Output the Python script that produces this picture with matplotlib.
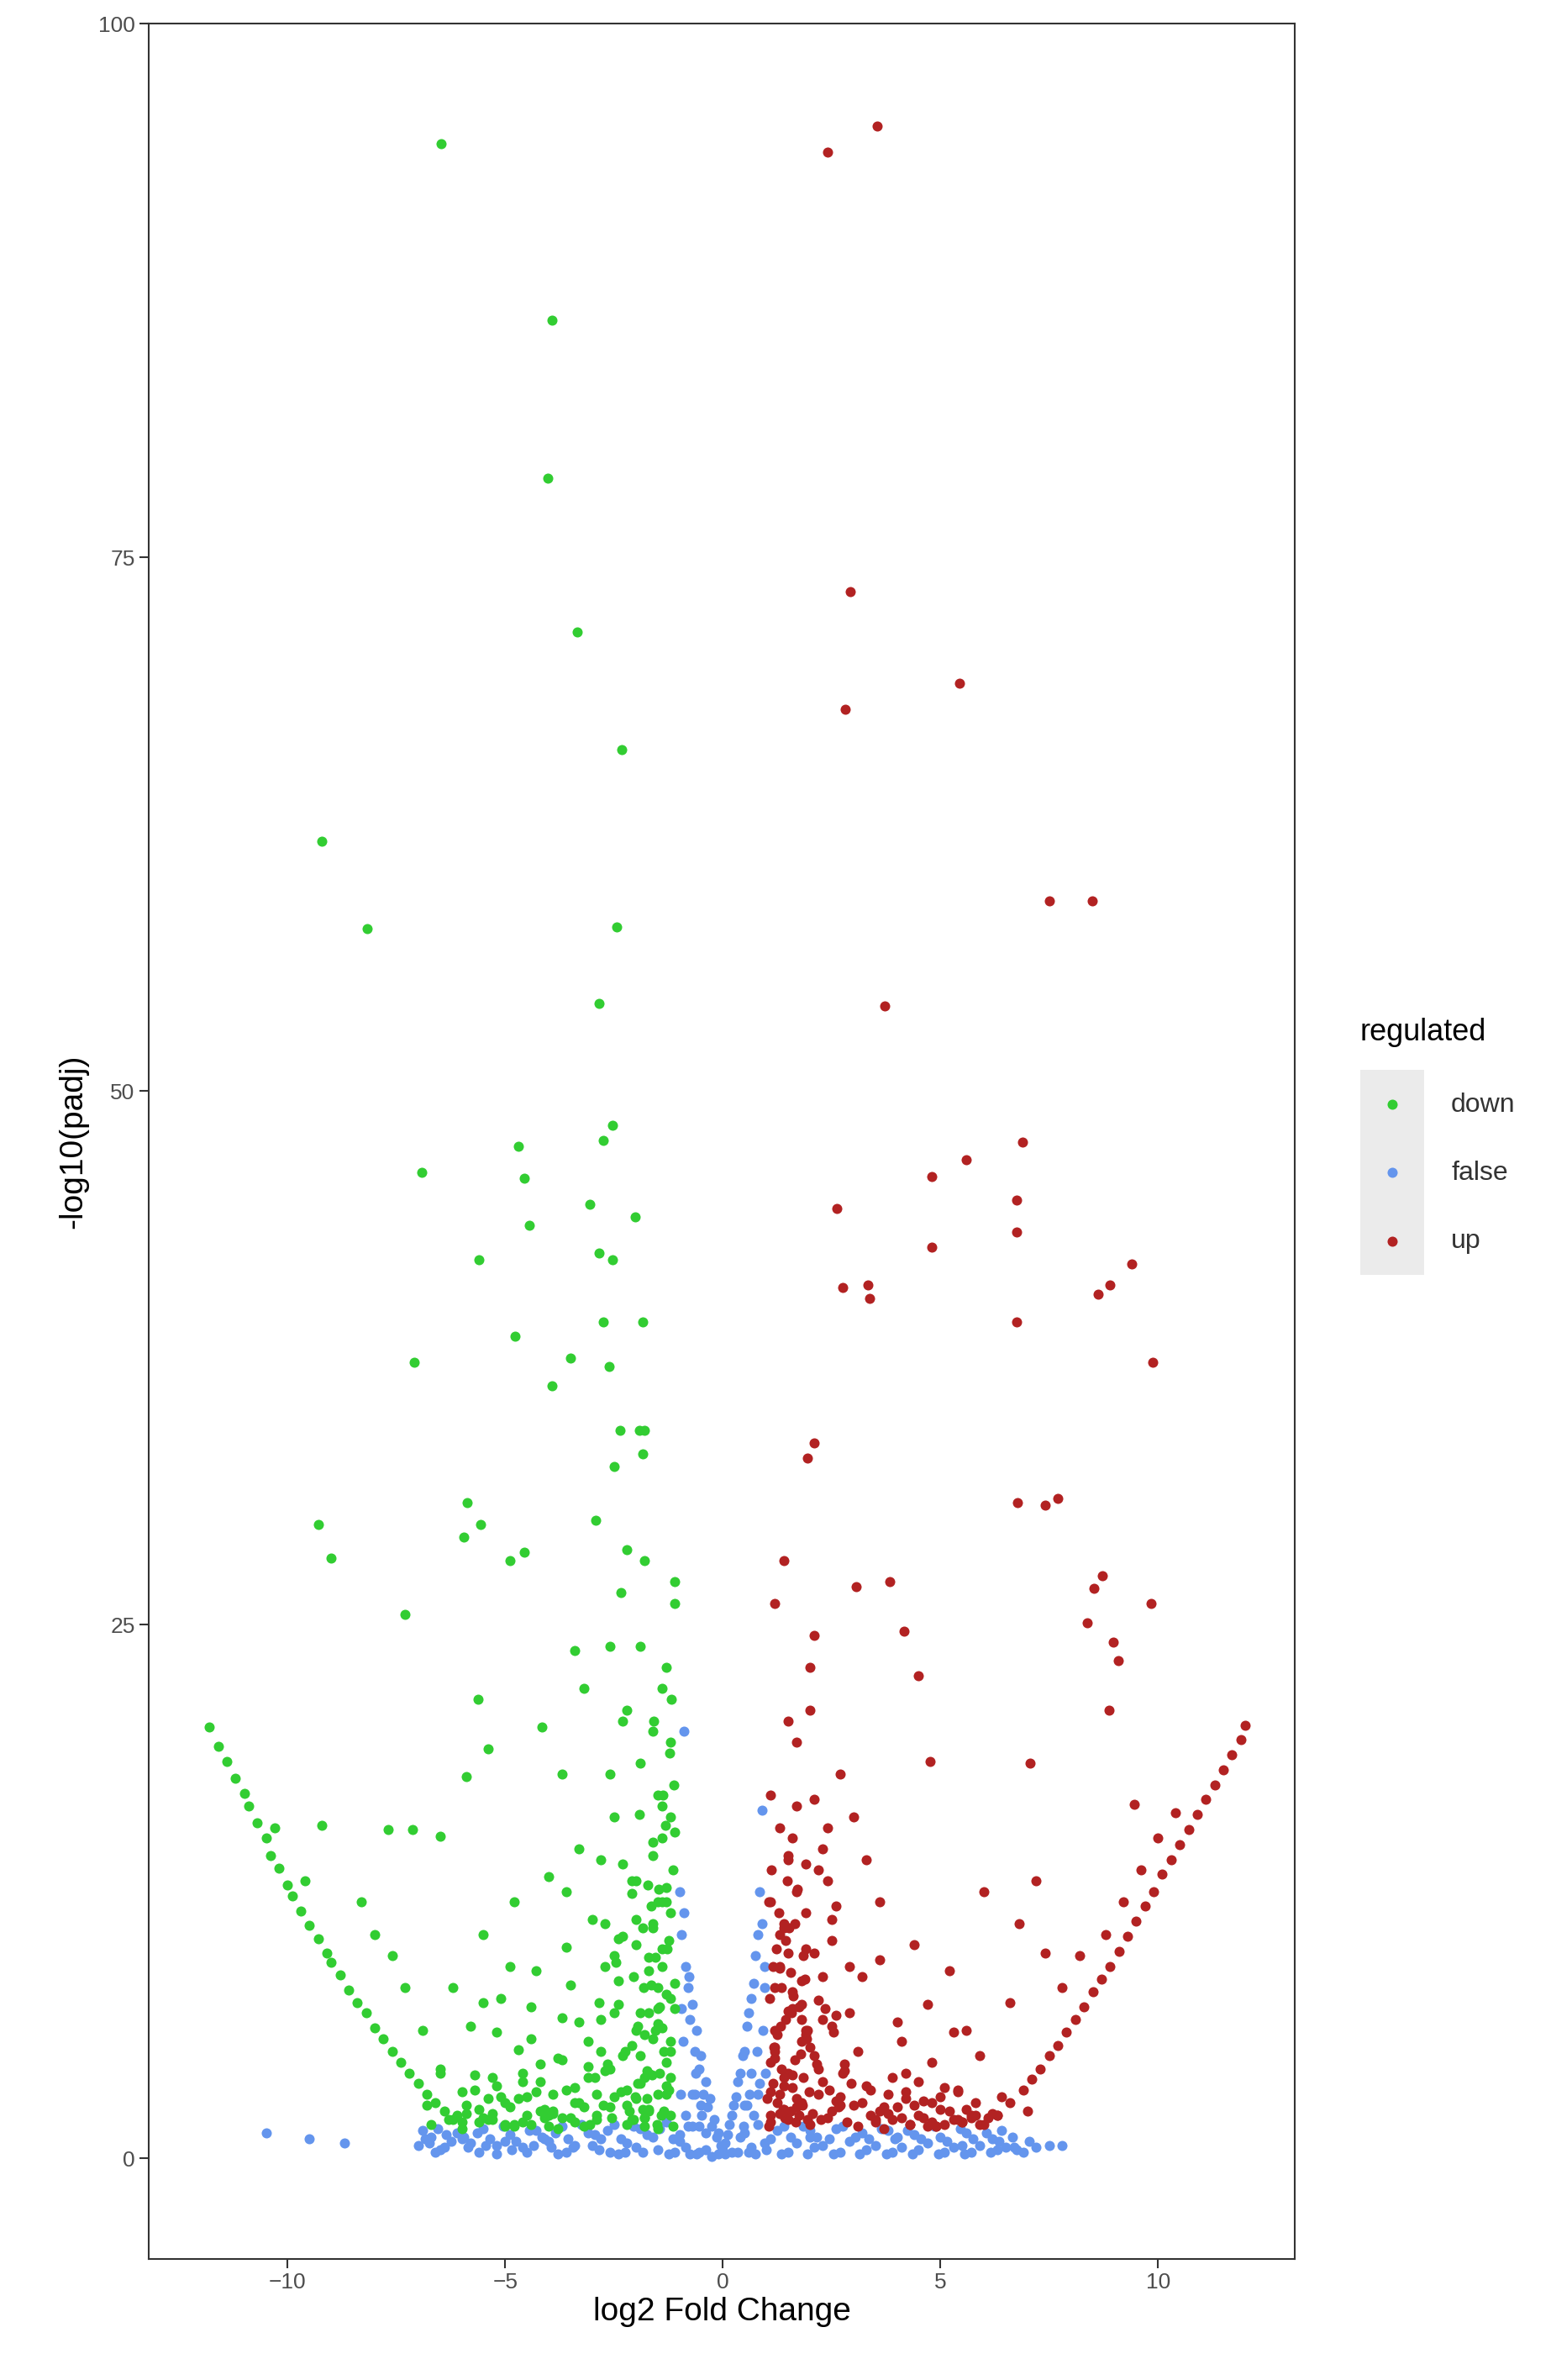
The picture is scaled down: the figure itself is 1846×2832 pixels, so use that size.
import numpy as np
import matplotlib.pyplot as plt

plt.rcParams['font.family'] = ['Liberation Sans', 'DejaVu Sans']

# ---- data (log2 fold change, -log10 padj) ----
down_x = [-6.47, -3.93, -4.03, -3.34, -2.33, -9.22, -8.17, -2.43, -2.85, -2.54, -2.75, -4.70,
          -6.92, -4.56, -4.45, -3.06, -2.02, -5.60, -2.85, -2.54, -2.75, -1.84, -4.77, -7.10,
          -3.51, -2.61, -3.93, -2.37, -1.91, -1.80, -2.50, -1.85, -5.88, -9.29, -5.57, -5.95,
          -9.00, -4.56, -4.90, -2.92, -7.30, -5.63, -3.40, -4.15, -9.22, -7.69, -7.13, -6.50,
          -5.90, -5.40, -3.70, -3.20, -2.20, -2.60, -2.35,
          # left wing
          -11.8, -11.6, -11.4, -11.2, -11.0, -10.9, -10.7, -10.5, -10.4, -10.2, -10.0, -9.9,
          -9.7, -9.5, -9.3, -9.1, -9.0, -8.8, -8.6, -8.4, -8.2, -8.0, -7.8, -7.6, -7.4, -7.2,
          -7.0, -6.8, -6.6, -6.4, -8.3, -8.0, -7.6, -7.3, -6.9, -6.5, -10.3, -9.6,
          # middle scatter
          -6.8, -6.5, -6.2, -6.0, -5.8, -5.6, -5.5, -5.3, -5.1, -5.0, -4.8, -4.7, -4.5, -4.3,
          -4.2, -4.0, -3.9, -3.7, -3.6, -3.4, -3.3, -3.1, -3.0, -6.3, -5.9, -5.4, -5.2, -4.9,
          -4.6, -4.4, -4.1, -3.8, -3.5, -3.2, -6.0, -5.7, -5.0, -4.4, -3.9, -3.6, -3.3, -5.5,
          -4.8, -4.2, -3.7, -3.1, -6.7, -6.1, -5.3, -4.6, -4.0, -3.4,
          # dense cloud near -2..-1
          -2.9, -2.8, -2.7, -2.6, -2.5, -2.4, -2.3, -2.2, -2.1, -2.0, -1.9, -1.8, -1.7, -1.6,
          -1.5, -1.4, -1.3, -1.2, -1.1, -2.9, -2.7, -2.5, -2.3, -2.1, -1.9, -1.7, -1.5, -1.3,
          -1.1, -2.8, -2.6, -2.4, -2.2, -2.0, -1.8, -1.6, -1.4, -1.2, -2.8, -2.5, -2.2, -1.9,
          -1.6, -1.3, -1.1, -2.6, -2.3, -2.0, -1.7, -1.4, -1.2, -2.4, -2.1, -1.8, -1.5, -1.3,
          -2.0, -1.7, -1.4, -1.2, -1.9, -1.6, -1.3, -1.8, -1.5, -1.2, -1.6, -1.4, -1.5, -1.3,
          -1.2, -1.1, -1.4, -1.2, -2.2, -1.8, -1.5, -1.7]
down_y = [94.4, 86.1, 78.7, 71.5, 66.0, 61.7, 57.6, 57.7, 54.1, 48.4, 47.7, 47.4,
          46.2, 45.9, 43.7, 44.7, 44.1, 42.1, 42.4, 42.1, 39.2, 39.2, 38.5, 37.3,
          37.5, 37.1, 36.2, 34.1, 34.1, 34.1, 32.4, 33.0, 30.7, 29.7, 29.7, 29.1,
          28.1, 28.4, 28.0, 29.9, 25.5, 21.5, 23.8, 20.2, 15.6, 15.4, 15.4, 15.1,
          17.9, 19.2, 18.0, 22.0, 28.5, 24.0, 26.5,
          20.2, 19.3, 18.6, 17.8, 17.1, 16.5, 15.7, 15.0, 14.2, 13.6, 12.8, 12.3,
          11.6, 10.9, 10.3, 9.6, 9.2, 8.6, 7.9, 7.3, 6.8, 6.1, 5.6, 5.0, 4.5, 4.0,
          3.5, 3.0, 2.6, 2.2, 12.0, 10.5, 9.5, 8.0, 6.0, 4.0, 15.5, 13.0,
          2.5, 4.2, 8.0, 3.1, 6.2, 2.3, 10.5, 3.8, 7.5, 2.6, 12.0, 5.1, 2.9, 8.8,
          4.4, 13.2, 2.2, 6.6, 9.9, 3.3, 14.5, 5.5, 11.2, 1.8, 2.1, 2.8, 5.9, 9.0,
          3.6, 7.1, 1.9, 4.7, 8.1, 2.4, 1.7, 3.9, 1.6, 5.6, 3.0, 12.5, 6.4, 7.3,
          1.5, 2.2, 1.9, 4.3, 1.6, 2.0, 1.8, 1.7, 1.5, 2.6,
          3.0, 6.5, 11.0, 4.2, 16.0, 8.3, 20.5, 2.5, 12.4, 6.0, 18.5, 3.8, 9.4, 14.8,
          7.0, 22.0, 4.5, 11.5, 26.0, 1.8, 9.0, 2.9, 13.8, 5.3, 24.0, 2.2, 17.0, 3.4,
          8.2, 14.0, 18.0, 7.2, 21.0, 10.0, 28.0, 5.6, 12.0, 19.5, 5.0, 9.5, 3.2, 6.8,
          10.8, 7.7, 15.3, 2.4, 4.8, 13.0, 8.8, 16.5, 2.0, 10.3, 1.8, 5.8, 6.3, 12.7,
          2.8, 4.0, 9.8, 16.0, 3.5, 11.0, 23.0, 1.9, 8.0, 5.0, 20.0, 6.1, 12.0, 3.0,
          3.8, 27.0, 15.0, 7.5, 1.6, 1.5, 1.4, 2.3]

# extra down points filling the dense core and the low band (10 per line)
down2_x = [-1.15, -1.25, -1.35, -1.45, -1.55, -1.65, -1.75, -1.85, -1.95, -2.05,
           -1.15, -1.25, -1.35, -1.45, -1.55, -1.65, -1.75, -1.85, -1.95, -2.05,
           -1.10, -1.20, -1.30, -1.40, -1.50, -1.60, -1.70, -1.80, -1.90, -2.00,
           -1.12, -1.22, -1.32, -1.42, -1.52, -1.62, -1.72, -1.82, -1.92, -2.02,
           -2.15, -2.25, -2.35, -2.45, -2.55, -2.65, -2.75, -2.85, -2.95, -3.05,
           -2.10, -2.30, -2.50, -2.70, -2.90, -1.18, -1.28, -1.38, -1.48, -1.58,
           -3.2, -3.5, -3.8, -4.1, -4.4, -4.7, -5.0, -5.3, -5.6, -5.9,
           -3.3, -3.6, -3.9, -4.2, -4.5, -4.8, -5.1, -5.4, -5.7, -6.0,
           -3.1, -3.4, -3.7, -4.0, -4.3, -4.6, -4.9, -5.2, -5.5, -6.2]
down2_y = [1.5, 3.2, 5.0, 7.1, 9.4, 11.8, 4.1, 2.3, 6.2, 8.5,
           13.5, 10.2, 2.2, 4.0, 6.0, 8.1, 2.8, 10.8, 3.5, 1.8,
           7.0, 5.5, 12.0, 9.0, 3.0, 14.2, 6.8, 1.9, 4.8, 11.2,
           17.5, 19.0, 15.6, 2.0, 1.6, 3.9, 12.8, 8.0, 16.1, 2.9,
           2.2, 5.0, 3.1, 9.2, 1.9, 4.4, 2.5, 7.3, 3.8, 1.6,
           13.0, 10.4, 6.8, 4.1, 2.0, 21.5, 9.8, 17.0, 12.6, 20.5,
           1.5, 1.9, 1.4, 2.3, 1.6, 2.8, 1.5, 2.1, 1.7, 2.5,
           2.6, 3.2, 2.1, 3.6, 2.0, 1.6, 2.9, 1.8, 3.2, 1.4,
           3.8, 1.7, 4.6, 2.0, 3.1, 4.0, 2.4, 3.4, 1.9, 1.8]

up_x = [3.55, 2.40, 2.92, 2.82, 5.43, 7.51, 8.49, 3.72, 6.89, 5.60, 4.80, 2.61, 6.75, 6.75,
        4.80, 9.39, 8.90, 8.62, 2.75, 3.34, 3.37, 6.75, 9.88, 2.09, 1.95, 6.78, 7.41, 7.69,
        8.73, 8.52, 9.84, 8.38, 8.97, 9.08, 8.87, 7.06, 9.46, 3.83, 3.06, 4.17, 4.49, 4.77,
        # right wing
        6.0, 6.3, 6.6, 6.9, 7.1, 7.3, 7.5, 7.7, 7.9, 8.1, 8.3, 8.5, 8.7, 8.9, 9.1, 9.3, 9.5,
        9.7, 9.9, 10.1, 10.3, 10.5, 10.7, 10.9, 11.1, 11.3, 11.5, 11.7, 11.9, 12.0, 8.8,
        9.2, 9.6, 10.0, 10.4, 7.8, 8.2,
        # middle scatter
        3.0, 3.2, 3.4, 3.6, 3.8, 4.0, 4.2, 4.4, 4.6, 4.8, 5.0, 5.2, 5.4, 5.6, 5.8, 6.0, 6.3,
        6.6, 7.0, 7.4, 3.1, 3.5, 3.9, 4.3, 4.7, 5.1, 5.5, 5.9, 6.4, 6.8, 7.2, 3.3, 3.7, 4.1,
        4.5, 4.9, 5.3, 5.7, 6.1, 3.0, 3.6, 4.2, 4.8, 5.4,
        # dense cloud near 1..2.8
        1.1, 1.2, 1.3, 1.4, 1.5, 1.6, 1.7, 1.8, 1.9, 2.0, 2.1, 2.2, 2.3, 2.4, 2.5, 2.6, 2.7,
        2.8, 1.1, 1.3, 1.5, 1.7, 1.9, 2.1, 2.3, 2.5, 2.7, 1.2, 1.4, 1.6, 1.8, 2.0, 2.2, 2.4,
        2.6, 2.8, 1.1, 1.3, 1.5, 1.7, 1.9, 2.1, 2.3, 2.5, 1.2, 1.4, 1.6, 1.8, 2.0, 2.2, 1.1,
        1.3, 1.5, 1.7, 1.9, 1.2, 1.4, 1.6, 1.8, 1.1, 1.3, 1.5, 1.2, 1.4, 1.2, 1.5, 2.0, 2.4,
        1.6, 2.2, 2.9, 2.6, 1.8, 1.4]
up_y = [95.2, 94.0, 73.4, 67.9, 69.1, 58.9, 58.9, 54.0, 47.6, 46.8, 46.0, 44.5, 44.9, 43.4,
        42.7, 41.9, 40.9, 40.5, 40.8, 40.9, 40.3, 39.2, 37.3, 33.5, 32.8, 30.7, 30.6, 30.9,
        27.3, 26.7, 26.0, 25.1, 24.2, 23.3, 21.0, 18.5, 16.6, 27.0, 26.8, 24.7, 22.6, 18.6,
        1.6, 2.0, 2.6, 3.2, 3.7, 4.2, 4.8, 5.3, 5.9, 6.5, 7.1, 7.8, 8.4, 9.0, 9.7, 10.4, 11.1,
        11.8, 12.5, 13.3, 14.0, 14.7, 15.4, 16.1, 16.8, 17.5, 18.2, 18.9, 19.6, 20.3, 10.5,
        12.0, 13.5, 15.0, 16.2, 8.0, 9.5,
        2.5, 8.5, 3.2, 12.0, 2.1, 6.4, 2.8, 10.0, 1.9, 4.5, 2.3, 8.8, 1.8, 6.0, 2.6, 12.5, 2.0,
        7.3, 2.2, 9.6, 5.0, 1.8, 3.8, 1.6, 7.2, 3.3, 1.7, 4.8, 2.9, 11.0, 13.0, 14.0, 2.4, 5.5,
        3.6, 1.5, 5.9, 2.0, 1.9, 16.0, 9.3, 4.0, 1.7, 3.1,
        2.0, 6.0, 10.5, 3.4, 14.0, 7.8, 19.5, 2.6, 11.5, 5.2, 24.5, 3.0, 8.5, 13.0, 2.2, 6.7,
        18.0, 4.1, 4.5, 9.0, 1.8, 12.5, 5.8, 16.8, 3.6, 10.2, 2.5, 8.0, 2.3, 15.0, 5.5, 21.0,
        7.4, 1.9, 11.8, 4.4, 12.0, 3.0, 6.9, 2.8, 9.8, 4.8, 14.5, 6.2, 5.0, 10.8, 3.9, 8.3,
        1.6, 13.5, 1.7, 8.9, 4.0, 2.4, 6.0, 5.2, 11.0, 7.0, 7.2, 3.1, 2.1, 9.6, 4.7, 28.0,
        26.0, 20.5, 23.0, 15.5, 3.3, 4.2, 9.0, 2.7, 6.5, 3.8]

# extra up points filling the dense core and the low band (10 per line)
up2_x = [1.05, 1.15, 1.25, 1.35, 1.45, 1.55, 1.65, 1.75, 1.85, 1.95,
         1.05, 1.15, 1.25, 1.35, 1.45, 1.55, 1.65, 1.75, 1.85, 1.95,
         1.08, 1.18, 1.28, 1.38, 1.48, 1.58, 1.68, 1.78, 1.88, 1.98,
         1.02, 1.12, 1.22, 1.32, 1.42, 1.52, 1.62, 1.72, 1.82, 1.92,
         2.05, 2.15, 2.25, 2.35, 2.45, 2.55, 2.65, 2.75, 2.85, 2.95,
         2.10, 2.30, 2.50, 2.70, 2.90, 1.10, 1.30, 1.50, 1.70, 1.90,
         3.1, 3.4, 3.7, 4.0, 4.3, 4.6, 4.9, 5.2, 5.5, 5.8,
         3.2, 3.5, 3.8, 4.1, 4.4, 4.7, 5.0, 5.3, 5.6, 5.9,
         3.3, 3.6, 3.9, 4.2, 4.5, 4.8, 5.1, 5.4, 5.7, 6.2]
up2_y = [1.5, 3.5, 5.8, 8.0, 10.2, 2.2, 4.6, 7.1, 9.5, 1.8,
         12.0, 9.0, 2.6, 4.2, 6.5, 8.7, 11.0, 2.0, 3.8, 6.0,
         7.5, 5.2, 11.5, 2.3, 13.0, 6.8, 1.7, 4.9, 8.4, 3.1,
         2.8, 13.5, 9.8, 6.2, 1.9, 10.8, 7.6, 12.6, 2.5, 5.6,
         2.1, 4.4, 1.8, 7.0, 3.2, 5.9, 2.4, 4.0, 1.7, 3.5,
         9.6, 6.5, 11.2, 2.9, 6.8, 17.0, 15.5, 14.2, 16.5, 13.8,
         1.5, 2.0, 1.4, 2.4, 1.6, 2.7, 1.5, 2.2, 1.7, 2.0,
         2.6, 1.7, 3.0, 1.9, 2.5, 1.5, 2.9, 1.8, 2.3, 1.6,
         3.4, 2.2, 1.8, 3.1, 2.0, 2.6, 1.6, 3.2, 1.9, 2.1]

false_x = [-10.5, -9.5, -8.7, 7.5, 7.8, 6.7, -0.9, 0.9,
           -7.0, -6.7, -6.4, -6.1, -5.8, -5.5, -5.2, -4.9, -4.6, -4.3, -4.0, -3.7, -3.4, -3.1,
           -2.8, -2.5, -2.2, -1.9, -1.6, -1.3, -1.0, -0.7, -0.4, -0.1, 0.2, 0.5, 0.8, 1.1, 1.4,
           1.7, 2.0, 2.3, 2.6, 2.9, 3.2, 3.5, 3.8, 4.1, 4.4, 4.7, 5.0, 5.3, 5.6, 5.9, 6.2, 6.5,
           -6.9, -6.5, -6.0, -5.6, -5.0, -4.5, -4.1, -3.6, -3.0, -2.6, -2.0, -1.5, -1.1, -0.6,
           0.6, 1.0, 1.5, 2.1, 2.7, 3.3, 3.9, 4.5, 5.1, 5.7, 6.3, 6.9, 7.2,
           -1.0, -0.95, -0.9, -0.85, -0.8, -0.75, -0.7, -0.65, -0.6, -0.55, -0.5, -0.45, -0.4,
           -0.35, -0.3, -0.25, -0.2, -0.15, -0.1, -0.05, 0.0, 0.05, 0.1, 0.15, 0.2, 0.25, 0.3,
           0.35, 0.4, 0.45, 0.5, 0.55, 0.6, 0.65, 0.7, 0.75, 0.8, 0.85, 0.9, 0.95,
           -0.98, -0.92, -0.85, -0.78, -0.7, -0.62, -0.55, -0.48, -0.4, 0.4, 0.48, 0.55, 0.62,
           0.7, 0.78, 0.85, 0.92, 0.98, -0.95, -0.8, -0.65, -0.5, 0.5, 0.65, 0.8, 0.95]
false_y = [1.2, 0.9, 0.7, 0.6, 0.6, 0.5, 20.0, 16.3,
           0.6, 1.0, 0.5, 1.2, 0.7, 1.4, 0.6, 1.1, 0.5, 1.3, 0.8, 1.5, 0.6, 1.2, 0.9, 1.6, 0.7,
           1.4, 1.0, 1.7, 0.8, 1.5, 0.4, 0.2, 0.3, 1.2, 1.6, 0.9, 1.5, 0.7, 1.3, 0.6, 1.4, 0.8,
           1.2, 0.6, 1.3, 0.5, 1.1, 0.7, 1.0, 0.5, 1.2, 0.6, 0.9, 0.5,
           1.3, 0.4, 0.9, 0.3, 0.8, 0.3, 0.9, 0.3, 0.6, 0.3, 0.5, 0.4, 0.3, 0.2,
           0.3, 0.4, 0.3, 0.5, 0.3, 0.4, 0.3, 0.4, 0.3, 0.3, 0.4, 0.3, 0.5,
           12.5, 10.5, 11.5, 9.0, 8.0, 6.5, 7.2, 5.0, 6.0, 4.2, 4.8, 3.0, 3.6, 2.4, 2.8, 1.5, 1.8,
           1.0, 1.2, 0.6, 0.4, 0.7, 1.1, 1.6, 2.0, 2.5, 2.9, 3.6, 4.0, 4.8, 5.0, 6.2, 6.8, 7.5,
           8.2, 9.5, 10.5, 12.5, 11.0, 9.0,
           3.0, 5.5, 2.0, 8.5, 3.0, 4.0, 1.5, 2.0, 1.2, 1.0, 1.5, 2.5, 3.0, 2.0, 5.0, 3.5, 6.0,
           4.0, 7.0, 1.5, 3.0, 2.5, 2.5, 4.0, 3.0, 8.0]

# extra false points for the flat band near zero (10 per line)
false2_x = [-6.85, -6.55, -6.25, -5.95, -5.65, -5.35, -5.05, -4.75, -4.45, -4.15,
            -3.85, -3.55, -3.25, -2.95, -2.65, -2.35, -2.05, -1.75, -1.45, -1.15,
            -0.85, -0.55, -0.25, 0.05, 0.35, 0.65, 0.95, 1.25, 1.55, 1.85,
            2.15, 2.45, 2.75, 3.05, 3.35, 3.65, 3.95, 4.25, 4.55, 4.85,
            5.15, 5.45, 5.75, 6.05, 6.35, 6.65, -6.6, -5.2, -3.8, -2.4,
            -6.75, -6.35, -5.85, -5.45, -4.85, -4.35, -3.95, -3.45, -2.85, -2.25,
            -1.85, -1.25, -0.75, 0.75, 1.35, 1.95, 2.55, 3.15, 3.75, 4.35,
            4.95, 5.55, 6.15, 6.75, 7.05, -1.0, 2.0, 4.0, 5.5, 6.4]
false2_y = [0.9, 1.4, 0.8, 1.0, 1.2, 0.9, 1.5, 0.8, 1.3, 1.0,
            1.2, 0.9, 1.6, 1.1, 1.3, 0.9, 1.5, 1.1, 1.4, 0.9,
            0.5, 0.3, 0.1, 0.2, 0.3, 0.5, 0.7, 1.3, 1.0, 1.5,
            1.0, 0.9, 1.5, 1.0, 0.9, 1.4, 0.9, 1.3, 0.9, 1.5,
            0.8, 1.4, 0.9, 1.2, 0.8, 1.0, 0.3, 0.2, 0.2, 0.2,
            0.7, 1.1, 0.5, 0.6, 0.4, 0.6, 0.5, 0.5, 0.4, 0.3,
            0.3, 0.2, 0.2, 0.2, 0.2, 0.2, 0.2, 0.2, 0.2, 0.2,
            0.2, 0.2, 0.3, 0.4, 0.8, 1.1, 1.0, 1.0, 0.6, 1.3]

x_ticks = [-10, -5, 0, 5, 10]
y_ticks = [0, 25, 50, 75, 100]
groups = ['down', 'false', 'up']
colors = {'down': '#32CD32', 'false': '#6495ED', 'up': '#B22222'}

fig = plt.figure(figsize=(18.46, 28.32), dpi=100)
ax = fig.add_axes([0.0957, 0.051, 0.7393, 0.939])

ms = 75
ax.scatter(false_x + false2_x, false_y + false2_y, s=ms, color=colors['false'],
           linewidths=0, zorder=2)
ax.scatter(down_x + down2_x, down_y + down2_y, s=ms, color=colors['down'], linewidths=0, zorder=3)
ax.scatter(up_x + up2_x, up_y + up2_y, s=ms, color=colors['up'], linewidths=0, zorder=3)

ax.set_xlim(-13.2, 13.15)
ax.set_ylim(-4.7, 100)
ax.set_xticks(x_ticks)
ax.set_yticks(y_ticks)
ax.tick_params(labelsize=19, colors='#333333', length=8, width=1.5, labelcolor='#4d4d4d')
for s in ax.spines.values():
    s.set_color('#333333')
    s.set_linewidth(1.5)
ax.set_xlabel('log2 Fold Change', fontsize=28, labelpad=4)
ax.set_ylabel('-log10(padj)', fontsize=28, labelpad=8)

# legend, ggplot style
fig.text(898 / 1024, 1 - 680 / 1568, 'regulated', fontsize=26, va='center', ha='left')
lax = fig.add_axes([898 / 1024, 1 - 840 / 1568, 42 / 1024, 135 / 1568])
lax.set_facecolor('#ebebeb')
lax.set_xlim(0, 1)
lax.set_ylim(0, 3)
for sp in lax.spines.values():
    sp.set_visible(False)
lax.set_xticks([])
lax.set_yticks([])
for i, g in enumerate(groups):
    lax.scatter([0.5], [2.5 - i], s=ms, color=colors[g], linewidths=0)
    fig.text(958 / 1024, 1 - (728 + 45 * i) / 1568, g, fontsize=23, va='center', ha='left',
             color='#333333')

fig.savefig('out.png', dpi=100)
